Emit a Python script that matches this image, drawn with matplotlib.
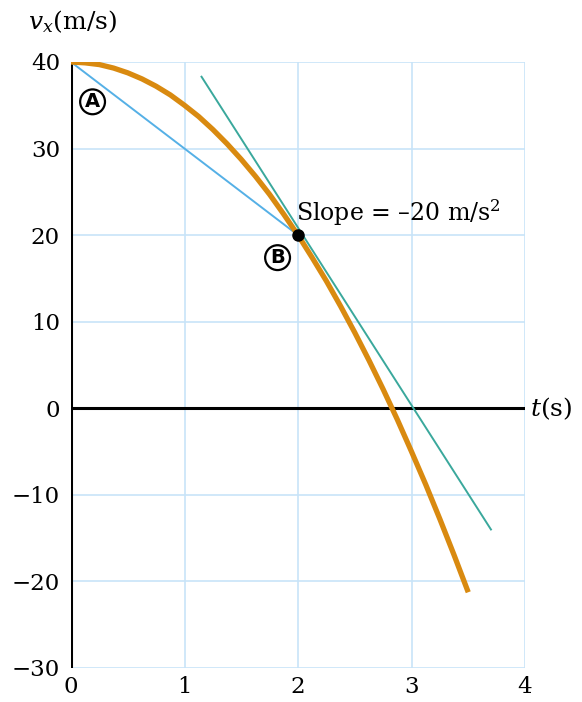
import matplotlib
matplotlib.use("Agg")
import matplotlib.pyplot as plt

# Data
t_curve = [0.0, 0.125, 0.25, 0.375, 0.5, 0.625, 0.75, 0.875, 1.0, 1.125, 1.25, 1.375,
           1.5, 1.625, 1.75, 1.875, 2.0, 2.125, 2.25, 2.375, 2.5, 2.625, 2.75, 2.875,
           3.0, 3.125, 3.25, 3.375, 3.5]
v_curve = [40.0, 39.9, 39.7, 39.3, 38.75, 38.05, 37.2, 36.2, 35.0, 33.7, 32.2, 30.55,
           28.75, 26.8, 24.7, 22.4, 20.0, 17.4, 14.7, 11.8, 8.75, 5.55, 2.2, -1.3,
           -5.0, -8.8, -12.8, -16.95, -21.25]
chord_t = [0.0, 2.0]
chord_v = [40.0, 20.0]
tangent_t = [1.15, 3.7]
tangent_v = [38.3, -14.0]
point_B = (2.0, 20.0)
label_A = (0.19, 35.4)
label_B = (1.82, 17.4)
x_ticks = [0, 1, 2, 3, 4]
y_ticks = [-30, -20, -10, 0, 10, 20, 30, 40]

serif = "DejaVu Serif"
fig = plt.figure(figsize=(5.82, 7.02), dpi=100)
ax = fig.add_axes([71/582, 1-668/702, (525-71)/582, (668-62)/702])
ax.set_xlim(0, 4)
ax.set_ylim(-30, 40)

grid_c = "#c8e4f8"
for x in x_ticks[1:]:
    ax.plot([x, x], [-30, 40], color=grid_c, lw=1.2, zorder=1)
for y in y_ticks:
    ax.plot([0, 4], [y, y], color=grid_c, lw=1.2, zorder=1)

for s in ax.spines.values():
    s.set_visible(False)

ax.plot([0, 4], [0, 0], color="black", lw=2.2, zorder=3, solid_capstyle="butt")
ax.plot([0, 0], [-30, 40], color="black", lw=2.2, zorder=3, solid_capstyle="butt")

ax.plot(chord_t, chord_v, color="#55b0e6", lw=1.4, zorder=4)
ax.plot(tangent_t, tangent_v, color="#3aa89c", lw=1.4, zorder=4)
ax.plot(t_curve, v_curve, color="#d98a10", lw=3.8, zorder=5, solid_capstyle="butt")
ax.plot([point_B[0]], [point_B[1]], "o", color="black", ms=8, zorder=6)

circ = dict(boxstyle="circle,pad=0.15", fc="white", ec="black", lw=1.6)
ax.text(label_A[0], label_A[1], "A", fontsize=14, fontweight="bold", family="DejaVu Sans",
        ha="center", va="center", bbox=circ, zorder=7)
ax.text(label_B[0], label_B[1], "B", fontsize=14, fontweight="bold", family="DejaVu Sans",
        ha="center", va="center", bbox=circ, zorder=7)

ax.text(1.98, 22.6, "Slope = \u201320 m/s$^{2}$", fontsize=17, family=serif,
        ha="left", va="center", zorder=7, math_fontfamily="dejavuserif")

ax.set_xticks(x_ticks)
ax.set_yticks(y_ticks)
ax.set_xticklabels([str(v) for v in x_ticks], family=serif, fontsize=16.5)
ax.set_yticklabels([str(v).replace("-", "\u2212") for v in y_ticks], family=serif, fontsize=16.5)
ax.tick_params(length=0, pad=8)
ax.tick_params(axis="x", pad=6)

fig.text(28/582, 1-22/702, "$v_x$(m/s)", fontsize=18, family=serif, ha="left", va="center",
         math_fontfamily="dejavuserif")
ax.text(4.04, 0, "$t$(s)", fontsize=18, family=serif, ha="left", va="center",
        math_fontfamily="dejavuserif", clip_on=False)

fig.savefig("out.png", dpi=100)
